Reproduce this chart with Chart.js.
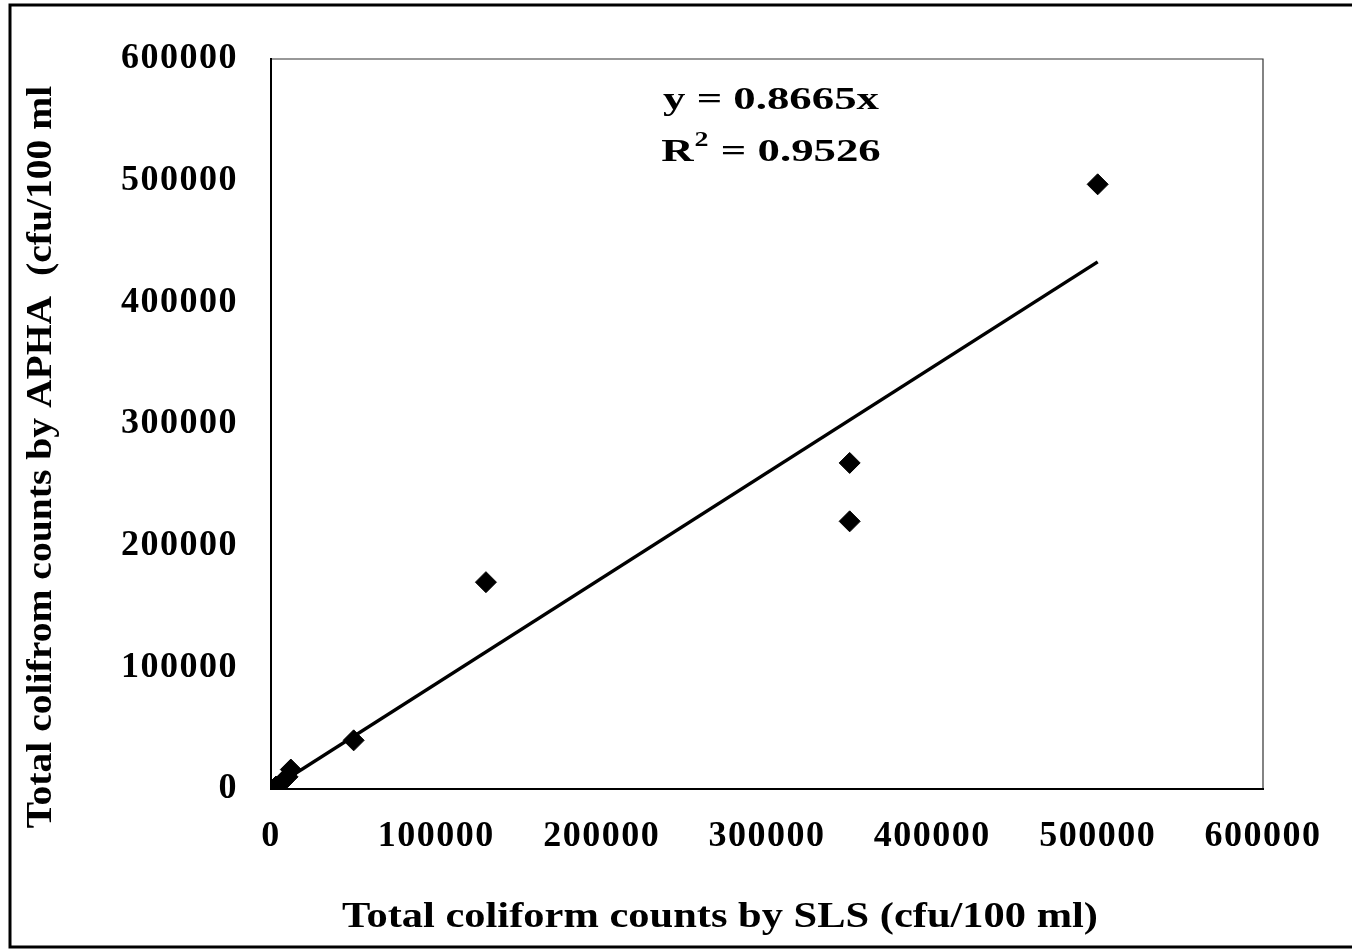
<!DOCTYPE html>
<html>
<head>
<meta charset="utf-8">
<script src="https://cdn.jsdelivr.net/npm/chart.js@4.4.1/dist/chart.umd.min.js"></script>
<style>
  html, body { margin: 0; padding: 0; background: #fff; }
  canvas { display: block; }
</style>
</head>
<body>
<canvas id="scatter-chart" width="1352" height="951"></canvas>
<script>
// SLS vs APHA counts (cfu/100 ml)
var slsCounts  = [0, 3000, 7000, 10000, 12000, 50000, 130000, 350000, 350000, 500000];
var aphaCounts = [0, 2000, 6000, 10000, 16000, 40000, 170000, 268000, 220000, 497000];

// fitted line through origin
var slope = 0.8665;
var rSquared = 0.9526;
var fitRange = [0, 500000];

var xTicks = [0, 100000, 200000, 300000, 400000, 500000, 600000];
var yTicks = [0, 100000, 200000, 300000, 400000, 500000, 600000];

var xTitle = 'Total coliform counts by SLS (cfu/100 ml)';
var yTitle = 'Total colifrom counts by APHA  (cfu/100 ml';

var points = slsCounts.map(function (x, i) { return { x: x, y: aphaCounts[i] }; });
var fitLine = fitRange.map(function (x) { return { x: x, y: slope * x }; });

var serif = '"Liberation Serif", "Times New Roman", serif';
var tickSpacing = '1.5px';

// text drawn wider than the font's natural width
function wideText(ctx, text, x, y, size, sx, align) {
  ctx.save();
  ctx.font = 'bold ' + size + 'px ' + serif;
  ctx.textAlign = align || 'center';
  ctx.textBaseline = 'middle';
  ctx.translate(x, y);
  ctx.scale(sx, 1);
  ctx.fillText(text, 0, 0);
  ctx.restore();
}

// outer frame, plot box, axis titles and the equation text
var extras = {
  id: 'extras',
  beforeUpdate: function (chart) {
    chart.ctx.letterSpacing = tickSpacing;
  },
  beforeDraw: function (chart) {
    var ctx = chart.ctx;
    ctx.letterSpacing = tickSpacing;
    ctx.save();
    ctx.fillStyle = '#fff';
    ctx.fillRect(0, 0, chart.width, chart.height);
    ctx.strokeStyle = '#000';
    ctx.lineWidth = 3;
    ctx.beginPath();
    ctx.moveTo(1360, 5);
    ctx.lineTo(10, 5);
    ctx.lineTo(10, 947);
    ctx.lineTo(1360, 947);
    ctx.stroke();

    var a = chart.chartArea;
    ctx.lineWidth = 1.2;
    ctx.strokeStyle = '#333';
    ctx.beginPath();
    ctx.moveTo(a.left, a.top);
    ctx.lineTo(a.right, a.top);
    ctx.lineTo(a.right, a.bottom);
    ctx.stroke();
    ctx.restore();
  },
  afterDraw: function (chart) {
    var ctx = chart.ctx;
    ctx.save();
    ctx.letterSpacing = '0px';
    ctx.fillStyle = '#000';

    wideText(ctx, xTitle, 720, 918, 36, 1.18);

    ctx.save();
    ctx.translate(42, 457);
    ctx.rotate(-Math.PI / 2);
    wideText(ctx, yTitle, 0, 0, 36, 1.1);
    ctx.restore();

    var sx = 1.4;
    wideText(ctx, 'y = ' + slope.toFixed(4) + 'x', 771, 101, 32, sx);

    var left = 'R', right = ' = ' + rSquared.toFixed(4);
    ctx.font = 'bold 32px ' + serif;
    var wL = ctx.measureText(left).width * sx;
    var wR = ctx.measureText(right).width * sx;
    ctx.font = 'bold 20px ' + serif;
    var wS = ctx.measureText('2').width * sx + 2;
    var x0 = 771 - (wL + wS + wR) / 2;
    wideText(ctx, left, x0, 153, 32, sx, 'left');
    wideText(ctx, '2', x0 + wL + 1, 141, 20, sx, 'left');
    wideText(ctx, right, x0 + wL + wS, 153, 32, sx, 'left');
    ctx.restore();
  }
};

new Chart(document.getElementById('scatter-chart'), {
  type: 'scatter',
  data: {
    datasets: [
      {
        label: 'APHA vs SLS',
        data: points,
        pointStyle: 'rectRot',
        pointRadius: 10.5,
        pointBackgroundColor: '#000',
        pointBorderColor: '#000',
        pointBorderWidth: 1
      },
      {
        type: 'line',
        label: 'Linear fit',
        data: fitLine,
        borderColor: '#000',
        borderWidth: 3.5,
        pointRadius: 0,
        fill: false
      }
    ]
  },
  plugins: [extras],
  options: {
    responsive: false,
    animation: false,
    devicePixelRatio: 1,
    layout: { padding: { left: 0, top: 59, right: 89, bottom: 0 } },
    plugins: {
      legend: { display: false },
      tooltip: { enabled: false }
    },
    scales: {
      x: {
        type: 'linear',
        min: 0,
        max: 600000,
        afterBuildTicks: function (scale) {
          scale.ticks = xTicks.map(function (v) { return { value: v }; });
        },
        afterFit: function (scale) { scale.height = 162; },
        ticks: {
          color: '#000',
          padding: 26,
          maxRotation: 0,
          font: { family: serif, size: 36, weight: 'bold' },
          callback: function (v) { return String(v); }
        },
        grid: { display: false, drawTicks: false },
        border: { display: true, color: '#000', width: 2 }
      },
      y: {
        type: 'linear',
        min: 0,
        max: 600000,
        afterBuildTicks: function (scale) {
          scale.ticks = yTicks.map(function (v) { return { value: v }; });
        },
        afterFit: function (scale) { scale.width = 271; },
        ticks: {
          color: '#000',
          padding: 33,
          font: { family: serif, size: 36, weight: 'bold' },
          callback: function (v) { return String(v); }
        },
        grid: { display: false, drawTicks: false },
        border: { display: true, color: '#000', width: 2 }
      }
    }
  }
});
</script>
</body>
</html>
